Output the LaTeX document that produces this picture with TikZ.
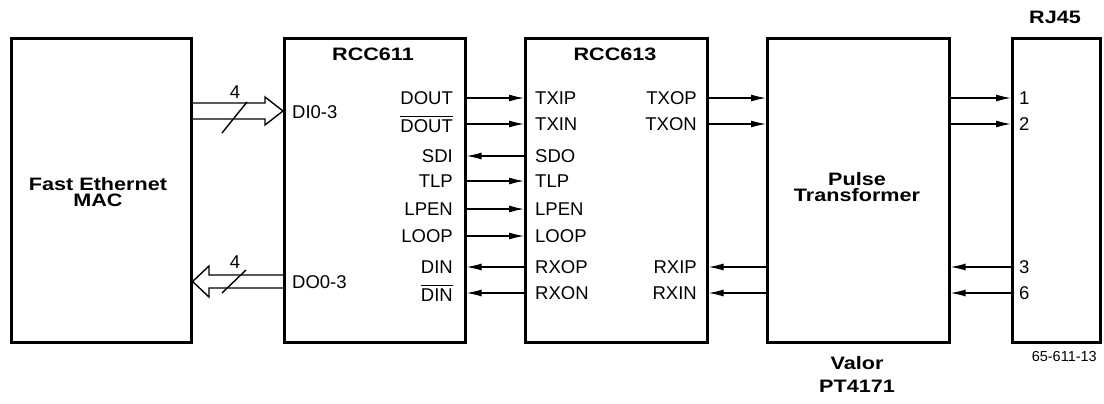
\documentclass[tikz,border=0pt]{standalone}
\usepackage{fontspec}
\usepackage{graphicx}
\setmainfont{Liberation Sans}
\usetikzlibrary{arrows.meta}
\newcommand{\ovl}[1]{\leavevmode\vbox{\hrule height 1.2pt\kern 2.6pt\hbox{#1}}}
\newcommand{\wb}[1]{\scalebox{1.2}[1]{#1}}
\tikzset{
  box/.style={draw, line width=2.6pt, minimum height=304pt, anchor=north west, inner sep=0},
  sig/.style={line width=1.2pt, -{Latex[length=15pt,width=7pt]}},
  fat/.style={line width=1.4pt, line join=miter},
  lab/.style={font=\fontsize{18.5}{20}\selectfont, inner sep=0},
  ttl/.style={font=\bfseries\fontsize{18}{17}\selectfont, inner sep=0, align=center},
  small/.style={font=\fontsize{14.5}{16}\selectfont, inner sep=0}
}
\begin{document}
\begin{tikzpicture}[x=1pt,y=-1pt]
\useasboundingbox (0,0) rectangle (1104,404);
% boxes
\node[box, minimum width=180pt] (mac) at (10,37) {};
\node[box, minimum width=181pt] (r611) at (283,37) {};
\node[box, minimum width=182pt] (r613) at (524,37) {};
\node[box, minimum width=182pt] (pt) at (766,37) {};
\node[box, minimum width=88pt] (rj) at (1011,37) {};
% titles
\node[ttl] (tmac) at (98,192) {\wb{Fast Ethernet}\\[-1pt]\wb{MAC}};
\node[ttl] (t611) at (373,54) {\wb{RCC611}};
\node[ttl] (t613) at (615,54) {\wb{RCC613}};
\node[ttl] (tpt) at (857,187) {\wb{Pulse}\\[-1pt]\wb{Transformer}};
\node[ttl] (trj) at (1055,17) {\wb{RJ45}};
\node[ttl] (tv1) at (857,363) {\wb{Valor}};
\node[ttl] (tv2) at (857,386) {\wb{PT4171}};
\node[small, anchor=east] (fig) at (1097,357) {65-611-13};
% RCC611 labels
\node[lab, anchor=east] (a1) at (453,98) {DOUT};
\node[lab, anchor=east] (a2) at (453,124) {\ovl{DOUT}};
\node[lab, anchor=east] (a3) at (453,156) {SDI};
\node[lab, anchor=east] (a4) at (453,181) {TLP};
\node[lab, anchor=east] (a5) at (453,209) {LPEN};
\node[lab, anchor=east] (a6) at (453,236) {LOOP};
\node[lab, anchor=east] (a7) at (453,267) {DIN};
\node[lab, anchor=east] (a8) at (453,293) {\ovl{DIN}};
\node[lab, anchor=west] (di) at (292,112) {DI0-3};
\node[lab, anchor=west] (do) at (292,282) {DO0-3};
% RCC613 labels
\node[lab, anchor=west] (b1) at (535,98) {TXIP};
\node[lab, anchor=west] (b2) at (535,124) {TXIN};
\node[lab, anchor=west] (b3) at (535,156) {SDO};
\node[lab, anchor=west] (b4) at (535,181) {TLP};
\node[lab, anchor=west] (b5) at (535,209) {LPEN};
\node[lab, anchor=west] (b6) at (535,236) {LOOP};
\node[lab, anchor=west] (b7) at (535,267) {RXOP};
\node[lab, anchor=west] (b8) at (535,293) {RXON};
\node[lab, anchor=east] (c1) at (697,98) {TXOP};
\node[lab, anchor=east] (c2) at (697,124) {TXON};
\node[lab, anchor=east] (c7) at (697,267) {RXIP};
\node[lab, anchor=east] (c8) at (697,293) {RXIN};
% RJ45 pins
\node[lab, anchor=west] (p1) at (1019,98) {1};
\node[lab, anchor=west] (p2) at (1019,124) {2};
\node[lab, anchor=west] (p3) at (1019,267) {3};
\node[lab, anchor=west] (p6) at (1019,293) {6};
% connectors RCC611 <-> RCC613
\draw[sig] (r611.east |- a1) -- (r613.west |- a1);
\draw[sig] (r611.east |- a2) -- (r613.west |- a2);
\draw[sig] (r613.west |- a3) -- (r611.east |- a3);
\draw[sig] (r611.east |- a4) -- (r613.west |- a4);
\draw[sig] (r611.east |- a5) -- (r613.west |- a5);
\draw[sig] (r611.east |- a6) -- (r613.west |- a6);
\draw[sig] (r613.west |- a7) -- (r611.east |- a7);
\draw[sig] (r613.west |- a8) -- (r611.east |- a8);
% RCC613 <-> transformer
\draw[sig] (r613.east |- c1) -- (pt.west |- c1);
\draw[sig] (r613.east |- c2) -- (pt.west |- c2);
\draw[sig] (pt.west |- c7) -- (r613.east |- c7);
\draw[sig] (pt.west |- c8) -- (r613.east |- c8);
% transformer <-> RJ45
\draw[sig] (pt.east |- p1) -- (rj.west |- p1);
\draw[sig] (pt.east |- p2) -- (rj.west |- p2);
\draw[sig] (rj.west |- p3) -- (pt.east |- p3);
\draw[sig] (rj.west |- p6) -- (pt.east |- p6);
% fat bus arrows
\draw[fat] (mac.east |- 0,103) -- (265,103) -- (265,97) -- (r611.west |- 0,111)
  -- (265,125) -- (265,119) -- (mac.east |- 0,119);
\draw[fat] (r611.west |- 0,275) -- (209,275) -- (209,266) -- (mac.east |- 0,281.5)
  -- (209,297) -- (209,288) -- (r611.west |- 0,288);
\draw[line width=1.4pt] (222,133) -- (247,102);
\draw[line width=1.4pt] (222,293) -- (246,270);
\node[lab] (n1) at (235,92) {4};
\node[lab] (n2) at (235,262) {4};
\end{tikzpicture}
\end{document}
